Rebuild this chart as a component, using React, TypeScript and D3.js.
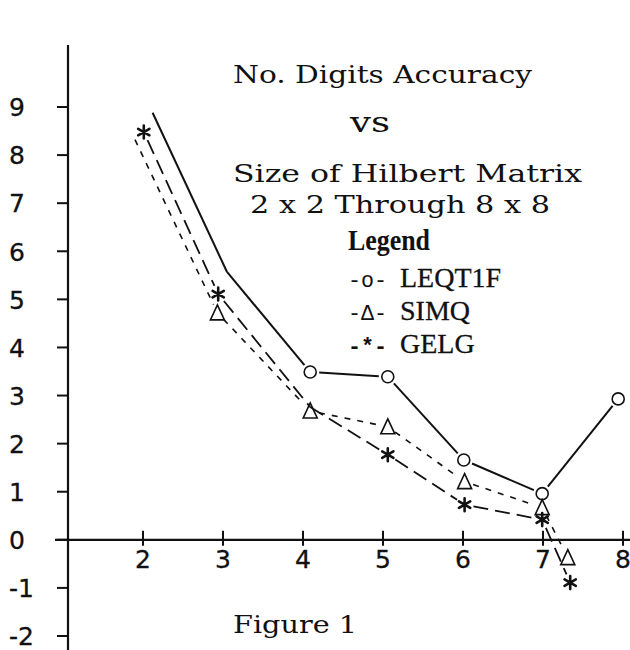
import React from "react";
import * as d3 from "d3";

// axis ticks
const xTicks = [2, 3, 4, 5, 6, 7, 8];
const yTicks = [-2, -1, 0, 1, 2, 3, 4, 5, 6, 7, 8, 9];

// LEQT1F (solid, circles)
const leqX = [2.12, 3.05, 4.09, 5.06, 6.01, 6.99, 7.94];
const leqY = [8.88, 5.57, 3.49, 3.39, 1.66, 0.96, 2.93];
const leqMark = [false, false, true, true, true, true, true];

// SIMQ (short dash, triangles)
const simX = [1.9, 2.93, 4.09, 5.06, 6.02, 6.99, 7.31];
const simY = [8.32, 4.72, 2.68, 2.35, 1.21, 0.67, -0.37];
const simMark = [false, true, true, true, true, true, true];

// GELG (long dash, asterisks)
const gelX = [2.01, 2.94, 4.09, 5.06, 6.02, 6.99, 7.34];
const gelY = [8.48, 5.11, 2.76, 1.77, 0.73, 0.42, -0.89];
const gelMark = [true, true, false, true, true, true, true];

const legendNames = ["LEQT1F", "SIMQ", "GELG"];
const legendKeys = ["-o-", "-\u0394-", "-*-"];

const W = 630, H = 650;
const mono = "'Liberation Mono', 'Courier New', monospace";
const slab = "'DejaVu Serif', serif";
const serif = "'Liberation Serif', 'Times New Roman', serif";
const sans = "'DejaVu Sans', sans-serif";
const ink = "#111";

const x = d3.scaleLinear().domain([2, 8]).range([143, 623]);
const y = d3.scaleLinear().domain([-2, 9]).range([636, 107]);
const axisLeftX = 68;

function segments(xs: number[], ys: number[], mark: boolean[], r: number) {
  const out: number[][] = [];
  for (let i = 0; i < xs.length - 1; i++) {
    let x1 = x(xs[i]), y1 = y(ys[i]), x2 = x(xs[i + 1]), y2 = y(ys[i + 1]);
    const len = Math.hypot(x2 - x1, y2 - y1);
    const ux = (x2 - x1) / len, uy = (y2 - y1) / len;
    if (mark[i]) { x1 += ux * r; y1 += uy * r; }
    if (mark[i + 1]) { x2 -= ux * r; y2 -= uy * r; }
    out.push([x1, y1, x2, y2]);
  }
  return out;
}

const series = [
  { name: "LEQT1F", xs: leqX, ys: leqY, mark: leqMark, dash: "none", sw: 2, shape: "circle" },
  { name: "SIMQ", xs: simX, ys: simY, mark: simMark, dash: "6,7", sw: 1.6, shape: "triangle" },
  { name: "GELG", xs: gelX, ys: gelY, mark: gelMark, dash: "15,7", sw: 1.8, shape: "star" },
];

function Marker({ shape, cx, cy }: { shape: string; cx: number; cy: number }) {
  if (shape === "circle")
    return <circle cx={cx} cy={cy} r={6} fill="white" stroke={ink} strokeWidth={1.6} />;
  if (shape === "triangle")
    return (
      <path
        d={`M${cx},${cy - 8} L${cx + 7},${cy + 7} L${cx - 7},${cy + 7} Z`}
        fill="none" stroke={ink} strokeWidth={1.6}
      />
    );
  const arms = [90, 30, 150].map(a => {
    const rad = (a * Math.PI) / 180, l = 6.5;
    return `M${cx - Math.cos(rad) * l},${cy - Math.sin(rad) * l} L${cx + Math.cos(rad) * l},${cy + Math.sin(rad) * l}`;
  });
  return <path d={arms.join(" ")} stroke={ink} strokeWidth={2.6} strokeLinecap="round" />;
}

export default function App() {
  const y0 = y(0);
  return (
    <svg width={W} height={H} style={{ position: "absolute", left: 0, top: 0, background: "white" }}>
      <rect width={W} height={H} fill="white" />

      {/* axes */}
      <line x1={axisLeftX} y1={45} x2={axisLeftX} y2={H} stroke={ink} strokeWidth={2.2} />
      <line x1={55} y1={y0} x2={W} y2={y0} stroke={ink} strokeWidth={2.2} />
      {yTicks.map(t => (
        <g key={"y" + t}>
          <line x1={57} x2={axisLeftX} y1={y(t)} y2={y(t)} stroke={ink} strokeWidth={2} />
          <text x={9} y={y(t)} dy="0.37em" fontFamily={sans} fontSize={25} fill={ink}
            stroke={ink} strokeWidth={0.3}>
            {t}
          </text>
        </g>
      ))}
      {xTicks.map(t => (
        <g key={"x" + t}>
          <line x1={x(t)} x2={x(t)} y1={y0 - 9} y2={y0 + 6} stroke={ink} strokeWidth={2} />
          <text x={x(t)} y={568} textAnchor="middle" fontFamily={sans} fontSize={25} fill={ink}
            stroke={ink} strokeWidth={0.3}>
            {t}
          </text>
        </g>
      ))}

      {/* lines */}
      {series.map(s => (
        <g key={s.name}>
          {segments(s.xs, s.ys, s.mark, 9).map((sg, i) => (
            <line key={i} x1={sg[0]} y1={sg[1]} x2={sg[2]} y2={sg[3]}
              stroke={ink} strokeWidth={s.sw} strokeDasharray={s.dash} />
          ))}
          {s.xs.map((v, i) =>
            s.mark[i] ? <Marker key={"m" + i} shape={s.shape} cx={x(v)} cy={y(s.ys[i])} /> : null
          )}
        </g>
      ))}

      {/* title */}
      <g fontFamily={slab} fill={ink}>
        <text x={233} y={83} fontSize={25} textLength={299} lengthAdjust="spacingAndGlyphs">No. Digits Accuracy</text>
        <text x={350} y={132} fontSize={28} textLength={40} lengthAdjust="spacingAndGlyphs">vs</text>
        <text x={233} y={182} fontSize={25} textLength={349} lengthAdjust="spacingAndGlyphs">Size of Hilbert Matrix</text>
        <text x={250} y={213} fontSize={25} textLength={300} lengthAdjust="spacingAndGlyphs">2 x 2 Through 8 x 8</text>
        <text x={233} y={633} fontSize={25} textLength={124} lengthAdjust="spacingAndGlyphs">Figure 1</text>
      </g>

      {/* legend */}
      <text x={348} y={250} fontFamily={serif} fontWeight="bold" fontSize={29} fill={ink}
        textLength={82} lengthAdjust="spacingAndGlyphs">Legend</text>
      {legendNames.map((n, i) => (
        <g key={n}>
          <text x={348} y={287 + i * 33} fontFamily={mono} fontSize={22} fill={ink}
            fontWeight={i === 2 ? "bold" : "normal"} textLength={39} lengthAdjust="spacingAndGlyphs">
            {legendKeys[i]}
          </text>
          <text x={400} y={287 + i * 33} fontFamily={serif} fontSize={28} fill={ink}
            stroke={ink} strokeWidth={0.3}>
            {n}
          </text>
        </g>
      ))}
    </svg>
  );
}
